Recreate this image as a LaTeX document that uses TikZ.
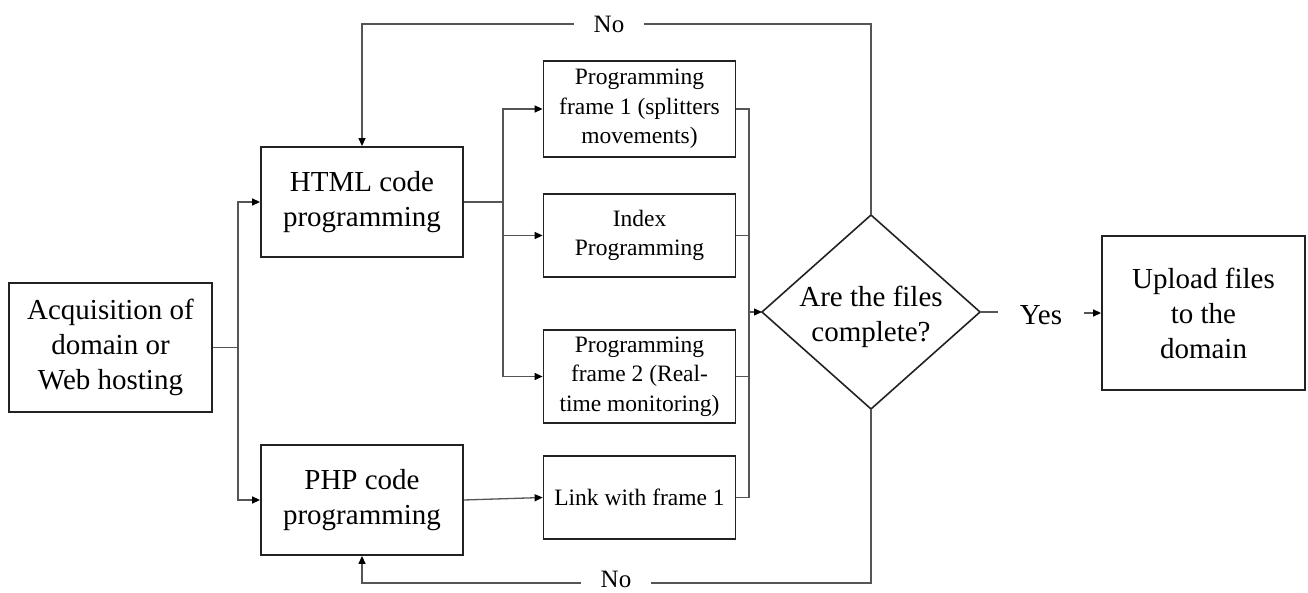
\documentclass[tikz,border=0pt]{standalone}
\usepackage{fontspec}
\setmainfont{Liberation Serif}
\usetikzlibrary{arrows.meta}
\definecolor{linec}{HTML}{555555}
\definecolor{boxc}{HTML}{222222}
\begin{document}
\begin{tikzpicture}[x=1pt,y=-1pt,
  bigbox/.style={draw=boxc,line width=1.8pt,align=center,inner sep=0pt,
    font=\fontsize{29}{35}\selectfont},
  smallbox/.style={draw=boxc,line width=1.8pt,align=center,inner sep=0pt,
    minimum width=192pt,font=\fontsize{23.5}{29.5}\selectfont},
  conn/.style={draw=linec,line width=1.3pt},
  arr/.style={conn,-{Triangle[length=8pt,width=7pt,fill=black,color=black]}},
  lbl/.style={inner xsep=20pt,inner ysep=0pt,font=\fontsize{25}{30}\selectfont},
]
\useasboundingbox (0,0) rectangle (1308,593);
% boxes
\node[bigbox,minimum width=203pt,minimum height=129pt] (acq) at (110.5,347.5) {Acquisition of\\domain or\\Web hosting};
\node[bigbox,minimum width=202pt,minimum height=110pt] (html) at (362,202) {HTML code\\programming};
\node[bigbox,minimum width=202pt,minimum height=110pt] (php) at (362,500) {PHP code\\programming};
\node[smallbox,minimum height=96pt] (f1) at (639.5,109) {Programming\\frame 1 (splitters\\movements)};
\node[smallbox,minimum height=83pt] (idx) at (639.5,235.5) {Index\\Programming};
\node[smallbox,minimum height=93pt] (f2) at (639.5,376.5) {Programming\\frame 2 (Real-\\time monitoring)};
\node[smallbox,minimum height=83pt] (link) at (639.5,497.5) {Link with frame 1};
\node[bigbox,minimum width=203pt,minimum height=154pt] (up) at (1203.5,313) {Upload files\\to the\\domain};
% diamond
\coordinate (dl) at (762,312);
\coordinate (dt) at (871,215);
\coordinate (dr) at (980,312);
\coordinate (db) at (871,409);
\draw[boxc,line width=1.6pt,line join=miter] (dl) -- (dt) -- (dr) -- (db) -- cycle;
\node[align=center,font=\fontsize{29}{35}\selectfont] (dq) at (871,317) {Are the files\\complete?};
% labels
\node[lbl,font=\fontsize{29}{35}\selectfont,inner xsep=22pt] (yes) at (1041,315) {Yes};
\node[lbl] (notop) at (609,24) {No};
\node[lbl] (nobot) at (616,579) {No};
% connectors left
\draw[conn] (acq.east) -- ++(25,0) coordinate (j1);
\draw[arr] (j1) |- (html.west);
\draw[arr] (j1) |- (php.west);
\draw[conn] (html.east) -- (503,202) coordinate (j2);
\draw[arr] (j2) |- (f1.west);
\draw[arr] (j2) |- (idx.west);
\draw[arr] (j2) |- (f2.west);
\draw[arr] (php.east) -- (link.west);
% connectors right
\coordinate (j3) at (749,312);
\draw[conn] (f1.east) -| (j3);
\draw[conn] (link.east) -| (j3);
\draw[conn] (idx.east) -- (idx.east -| j3);
\draw[conn] (f2.east) -- (f2.east -| j3);
\draw[arr] (j3) -- (dl);
\draw[conn] (dr) -- (dr -| yes.west);
\draw[arr] (up.west -| yes.east) -- (up.west);
% loops
\draw[conn] (dt) |- (notop.east);
\draw[arr] (notop.west) -| (html.north);
\coordinate (bl) at (871,583);
\draw[conn] (db) -- (bl) -- (bl -| nobot.east);
\draw[arr] (bl -| nobot.west) -| (php.south);
\end{tikzpicture}
\end{document}
